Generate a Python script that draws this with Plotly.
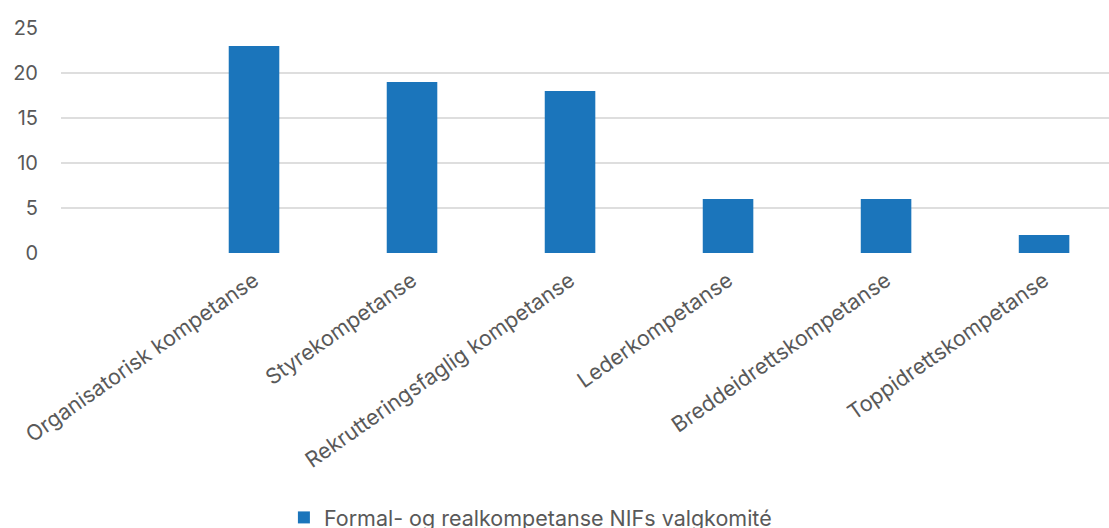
import plotly.graph_objects as go

categories = [
    "Organisatorisk kompetanse",
    "Styrekompetanse",
    "Rekrutteringsfaglig kompetanse",
    "Lederkompetanse",
    "Breddeidrettskompetanse",
    "Toppidrettskompetanse",
]
values = [23, 19, 18, 6, 6, 2]
series_name = "Formal- og realkompetanse NIFs valgkomité"
y_ticks = [0, 5, 10, 15, 20, 25]

text_color = "#595959"
font_family = "Inter, Roboto, sans-serif"

fig = go.Figure()
fig.add_trace(go.Bar(
    x=list(range(len(categories))),
    y=values,
    name=series_name,
    marker=dict(color="#1b75bb", line=dict(width=0)),
    width=0.32,
    showlegend=True,
))

fig.update_layout(
    width=1109,
    height=528,
    margin=dict(l=61, r=0, t=28, b=275),
    paper_bgcolor="white",
    plot_bgcolor="white",
    font=dict(family=font_family, size=20, color=text_color),
    xaxis=dict(
        range=[-1.2215, 5.411],
        tickmode="array",
        tickvals=list(range(len(categories))),
        ticktext=categories,
        tickangle=-35,
        showgrid=False,
        zeroline=False,
        showline=False,
        ticks="",
        ticklabelstandoff=10,
        tickfont=dict(size=21.5, color=text_color),
    ),
    yaxis=dict(
        range=[0, 25],
        tickmode="array",
        tickvals=y_ticks,
        showgrid=True,
        gridcolor="#dedede",
        gridwidth=2,
        zeroline=False,
        showline=False,
        ticks="",
        ticklabelstandoff=22,
        tickfont=dict(size=20, color=text_color),
    ),
    showlegend=True,
    legend=dict(
        orientation="h",
        xref="container",
        yref="container",
        x=0.256,
        xanchor="left",
        y=0.02,
        yanchor="middle",
        font=dict(size=21.5, color=text_color),
        itemwidth=30,
    ),
)

fig.write_html("out.html")
